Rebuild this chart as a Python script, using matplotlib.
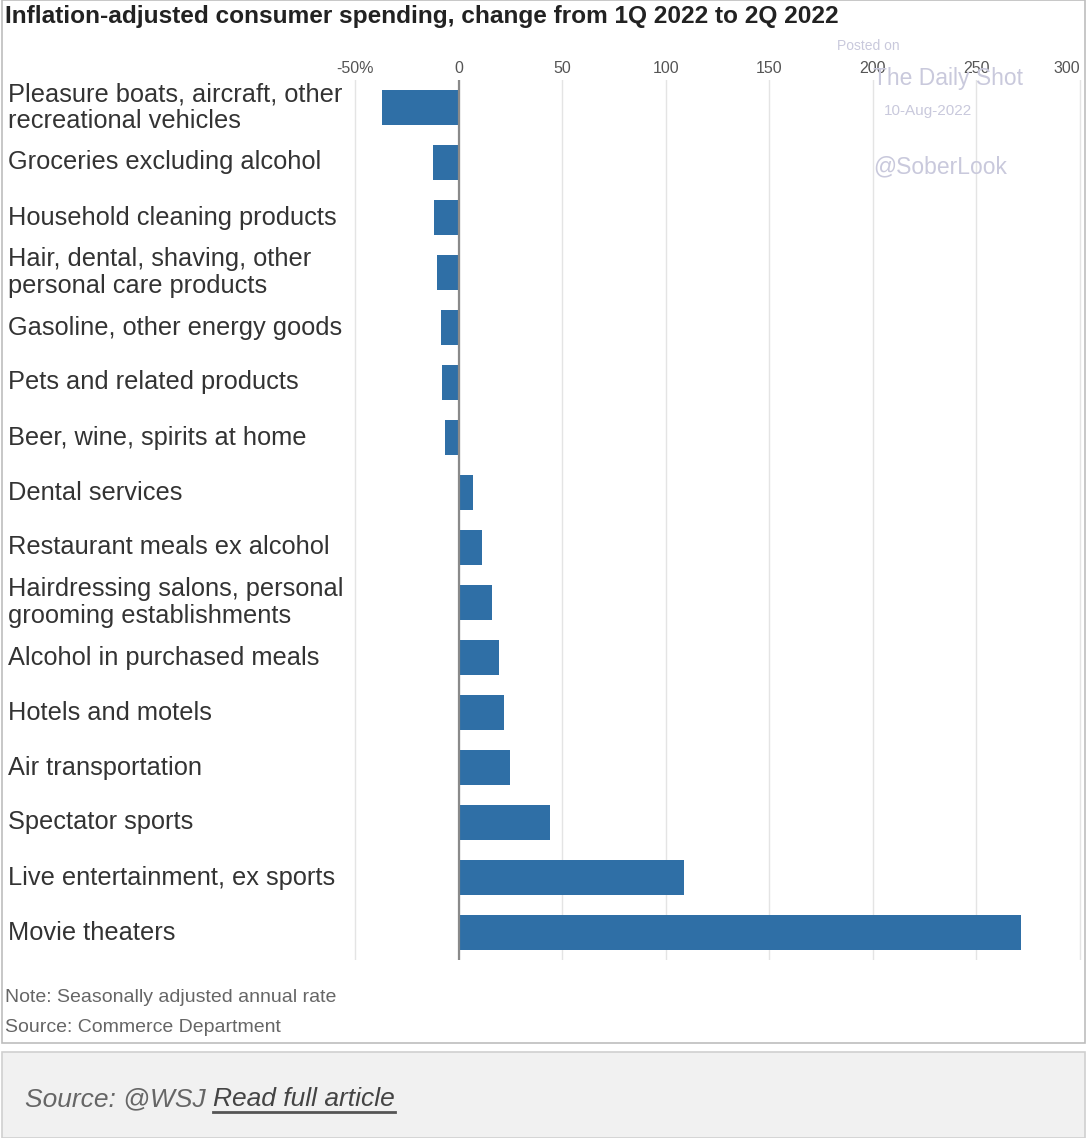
import matplotlib.pyplot as plt
import matplotlib.transforms as mtransforms
from matplotlib.patches import Rectangle
from matplotlib.lines import Line2D

# Datos (cambio %, 1T 2022 a 2T 2022)
categorias = [
    "Pleasure boats, aircraft, other\nrecreational vehicles",
    "Groceries excluding alcohol",
    "Household cleaning products",
    "Hair, dental, shaving, other\npersonal care products",
    "Gasoline, other energy goods",
    "Pets and related products",
    "Beer, wine, spirits at home",
    "Dental services",
    "Restaurant meals ex alcohol",
    "Hairdressing salons, personal\ngrooming establishments",
    "Alcohol in purchased meals",
    "Hotels and motels",
    "Air transportation",
    "Spectator sports",
    "Live entertainment, ex sports",
    "Movie theaters",
]
cambio = [-37, -12.6, -12, -10.6, -8.7, -8.2, -6.8, 7, 11, 16, 19.5, 22, 24.6, 44, 109, 271.5]
ticks = [-50, 0, 50, 100, 150, 200, 250, 300]
tick_labels = ["-50%", "0", "50", "100", "150", "200", "250", "300"]

fuente = ["Liberation Sans Narrow", "Liberation Sans", "DejaVu Sans"]
plt.rcParams['font.family'] = fuente

fig = plt.figure(figsize=(10.89, 11.38), dpi=100)
W, H = 1089, 1138

def fx(px):
    return px / W

def fy(py):
    return 1 - py / H

# Marcos de los paneles
fig.add_artist(Rectangle((fx(2), fy(1043)), fx(1083), 1043 / H, transform=fig.transFigure,
                         facecolor='white', edgecolor='#bdbdbd', lw=1.2, zorder=0))
fig.add_artist(Rectangle((fx(2), fy(1138)), fx(1083), 86 / H, transform=fig.transFigure,
                         facecolor='#f1f1f1', edgecolor='#d0d0d0', lw=1.2, zorder=0))

ax = fig.add_axes([fx(345), fy(960), fx(1084 - 345), (960 - 80) / H])
ax.set_facecolor('none')
y = list(range(len(categorias)))
ax.barh(y, cambio, height=0.62, color='#2f6fa6', zorder=3)
ax.set_xlim(-55, 302)
ax.set_ylim(len(categorias) - 0.5, -0.5)
ax.axvline(0, color='#8a8a8a', lw=1.6, zorder=4)

ax.xaxis.tick_top()
ax.set_xticks(ticks)
ax.set_xticklabels(tick_labels, fontsize=11.5, color='#555555')
ax.get_xticklabels()[-1].set_horizontalalignment('right')
ax.tick_params(axis='x', length=0, pad=3)
ax.set_yticks([])
ax.grid(axis='x', color='#e4e4e4', lw=1, zorder=0)
for s in ax.spines.values():
    s.set_visible(False)

trans = mtransforms.blended_transform_factory(fig.transFigure, ax.transData)
for i, cat in enumerate(categorias):
    ax.text(fx(8), i, cat, transform=trans, ha='left', va='center', fontsize=18.3,
            color='#333333', linespacing=1.12)

fig.text(fx(5), fy(16), "Inflation-adjusted consumer spending, change from 1Q 2022 to 2Q 2022",
         fontsize=17.6, fontweight='bold', color='#222222', ha='left', va='center')

fig.text(fx(5), fy(997), "Note: Seasonally adjusted annual rate", fontsize=14,
         color='#666666', ha='left', va='center')
fig.text(fx(5), fy(1028), "Source: Commerce Department", fontsize=14,
         color='#666666', ha='left', va='center')

# Marca de agua
marca = '#c9c9dc'
fig.text(fx(868), fy(46), "Posted on", fontsize=10, color=marca, ha='center', va='center')
fig.text(fx(948), fy(78), "The Daily Shot", fontsize=16.5, color=marca, ha='center', va='center')
fig.text(fx(928), fy(111), "10-Aug-2022", fontsize=11, color=marca, ha='center', va='center')
fig.text(fx(940), fy(167), "@SoberLook", fontsize=16.5, color=marca, ha='center', va='center')

t1 = fig.text(fx(25), fy(1099), "Source: @WSJ ", fontsize=19, style='italic',
              color='#666666', ha='left', va='center')
fig.canvas.draw()
r = fig.canvas.get_renderer()
bb = t1.get_window_extent(r)
t2 = fig.text(bb.x1 / W, fy(1099), "Read full article", fontsize=19, style='italic',
              color='#444444', ha='left', va='center')
bb2 = t2.get_window_extent(r)
fig.add_artist(Line2D([bb2.x0 / W, bb2.x1 / W], [fy(1112), fy(1112)], transform=fig.transFigure,
                      color='#555555', lw=2))

fig.savefig("out.png", dpi=100)
